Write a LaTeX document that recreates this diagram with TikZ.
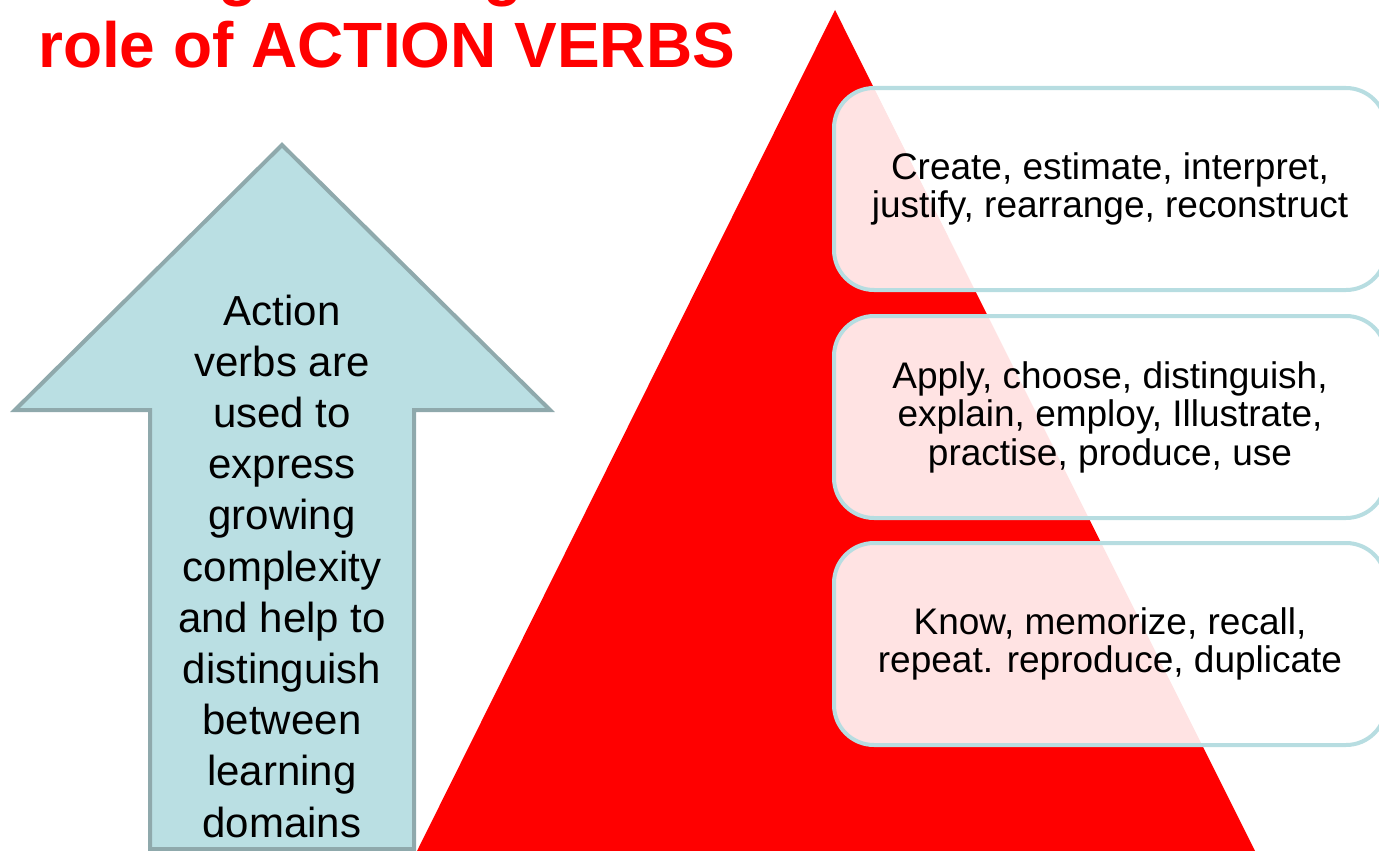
\documentclass[tikz,border=0pt]{standalone}
\usepackage{fontspec}
\setmainfont{Liberation Sans}
\definecolor{arrowfill}{HTML}{BADFE3}
\definecolor{arrowline}{HTML}{8FA9AC}
\definecolor{boxline}{HTML}{B7DDE1}
\definecolor{titlered}{HTML}{FF0000}
\begin{document}
\begin{tikzpicture}[x=1pt,y=-1pt,
  verbbox/.style={draw=boxline, line width=4pt, fill=white, fill opacity=0.89, text opacity=1,
    rounded corners=40pt, minimum width=552pt, minimum height=202pt, align=center,
    font=\fontsize{37}{38.5}\selectfont, inner sep=0pt},
  titletext/.style={text=titlered, font=\fontsize{64}{74}\selectfont\bfseries, inner sep=0pt},
  arrowtextstyle/.style={align=center, font=\fontsize{42}{51.2}\selectfont, inner sep=0pt}]
\useasboundingbox (0,0) rectangle (1379,851);
\clip (0,0) rectangle (1379,851);
% title (first line cut off at the top)
\node[titletext, anchor=base] (g1) at (238,-6) {g};
\node[titletext, anchor=base] (g2) at (503,-6) {g};
\node[titletext, anchor=base west] (title) at (38,68) {role of ACTION VERBS};
% pyramid
\path[fill=titlered] (835,10) -- (417,851) -- (1255,851) -- cycle;
% up arrow
\path[draw=arrowline, fill=arrowfill, line width=4pt, line join=miter]
  (282,145) -- (550,410) -- (414,410) -- (414,849) -- (150,849) -- (150,410) -- (15,410) -- cycle;
\node[arrowtextstyle] (arrowtext) at (282,566) {Action\\verbs are\\used to\\express\\growing\\complexity\\and help to\\distinguish\\between\\learning\\domains};
% boxes
\node[verbbox] (create) at (1110,189) {Create, estimate, interpret,\\justify, rearrange, reconstruct};
\node[verbbox] (apply) at (1110,417) {Apply, choose, distinguish,\\explain, employ, Illustrate,\\practise, produce, use};
\node[verbbox] (know) at (1110,644) {Know, memorize, recall,\\repeat. reproduce, duplicate};
\end{tikzpicture}
\end{document}
